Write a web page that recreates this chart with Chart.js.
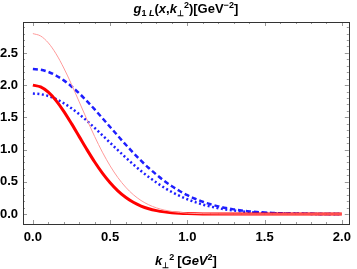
<!DOCTYPE html>
<html>
<head>
<meta charset="utf-8">
<script src="https://cdn.jsdelivr.net/npm/chart.js@4.4.0/dist/chart.umd.min.js"></script>
<style>
  html, body { margin: 0; padding: 0; background: #fff; }
</style>
</head>
<body>
<canvas id="chart" width="357" height="269"></canvas>
<script>
// k_perp^2 grid (GeV^2)
const kt2 = [0, 0.05, 0.1, 0.15, 0.2, 0.25, 0.3, 0.35, 0.4, 0.45, 0.5, 0.55, 0.6, 0.65, 0.7, 0.75, 0.8, 0.85, 0.9, 0.95,
             1.0, 1.05, 1.1, 1.15, 1.2, 1.25, 1.3, 1.35, 1.4, 1.45, 1.5, 1.55, 1.6, 1.65, 1.7, 1.75, 1.8, 1.85, 1.9, 1.95, 2.0];

// thick red
const redThick = [2.000, 1.972, 1.890, 1.760, 1.594, 1.403, 1.201, 0.999, 0.807, 0.635, 0.485, 0.360, 0.260, 0.182, 0.124, 0.082, 0.053, 0.033, 0.020, 0.012,
                  0.007, 0.004, 0.002, 0.001, 0, 0, 0, 0, 0, 0, 0, 0, 0, 0, 0, 0, 0, 0, 0, 0, 0];
// thin light red
const redThin = [2.800, 2.763, 2.656, 2.486, 2.266, 2.012, 1.740, 1.466, 1.202, 0.960, 0.747, 0.566, 0.418, 0.300, 0.210, 0.143, 0.095, 0.062, 0.039, 0.024,
                 0.014, 0.008, 0.005, 0.003, 0.002, 0.001, 0, 0, 0, 0, 0, 0, 0, 0, 0, 0, 0, 0, 0, 0, 0];
// blue dashed
const blueDashed = [2.250, 2.239, 2.205, 2.149, 2.074, 1.980, 1.872, 1.752, 1.623, 1.488, 1.351, 1.214, 1.079, 0.950, 0.828, 0.714, 0.610, 0.515, 0.431, 0.357,
                    0.292, 0.237, 0.190, 0.151, 0.119, 0.093, 0.072, 0.055, 0.041, 0.031, 0.023, 0.017, 0.012, 0.009, 0.006, 0.004, 0.003, 0.002, 0.001, 0.001, 0.001];
// blue dotted
const blueDotted = [1.870, 1.860, 1.831, 1.784, 1.719, 1.640, 1.548, 1.446, 1.336, 1.222, 1.106, 0.991, 0.878, 0.770, 0.668, 0.574, 0.488, 0.410, 0.341, 0.281,
                    0.229, 0.185, 0.147, 0.116, 0.091, 0.070, 0.054, 0.041, 0.030, 0.023, 0.017, 0.012, 0.009, 0.006, 0.004, 0.003, 0.002, 0.001, 0.001, 0.001, 0.000];

const xTicks = [0, 0.5, 1.0, 1.5, 2.0];
const yTicks = [0, 0.5, 1.0, 1.5, 2.0, 2.5];

const pts = arr => arr.map((v, i) => ({ x: kt2[i], y: v }));

const FONT = '"Liberation Sans", Arial, sans-serif';

// draw a run of styled text pieces centred on cx
function drawRich(ctx, parts, cx, baseline) {
  const fontOf = p => `${p.italic ? 'italic ' : ''}bold ${p.size}px ${FONT}`;
  let total = 0;
  parts.forEach(p => { ctx.font = fontOf(p); p.w = ctx.measureText(p.t).width; total += p.w + (p.gap || 0); });
  let x = cx - total / 2;
  ctx.textAlign = 'left';
  ctx.textBaseline = 'alphabetic';
  parts.forEach(p => {
    ctx.font = fontOf(p);
    ctx.fillText(p.t, x, baseline + (p.dy || 0));
    x += p.w + (p.gap || 0);
  });
}

const framePlugin = {
  id: 'frame',
  afterDraw(chart) {
    const { ctx, chartArea: a, scales: { x, y } } = chart;
    ctx.save();
    ctx.strokeStyle = '#999';
    ctx.lineWidth = 1;
    ctx.beginPath();
    for (let i = 0; i <= 20; i++) {
      const px = Math.round(x.getPixelForValue(i * 0.1)) + 0.5;
      const len = i % 5 === 0 ? 4 : 2;
      ctx.moveTo(px, a.bottom); ctx.lineTo(px, a.bottom - len);
      ctx.moveTo(px, a.top); ctx.lineTo(px, a.top + len);
    }
    for (let i = 0; i <= 29; i++) {
      const py = Math.round(y.getPixelForValue(i * 0.1)) + 0.5;
      const len = i % 5 === 0 ? 4 : 2;
      ctx.moveTo(a.left, py); ctx.lineTo(a.left + len, py);
      ctx.moveTo(a.right, py); ctx.lineTo(a.right - len, py);
    }
    ctx.stroke();
    ctx.strokeStyle = '#333';
    ctx.strokeRect(Math.round(a.left) + 0.5, Math.round(a.top) + 0.5, Math.round(a.right - a.left), Math.round(a.bottom - a.top));

    ctx.fillStyle = '#000';
    const cx = (a.left + a.right) / 2;
    drawRich(ctx, [
      { t: 'g', italic: true, size: 13 },
      { t: '1 ', size: 9, dy: 3 },
      { t: 'L', italic: true, size: 9, dy: 3 },
      { t: '(', size: 13 },
      { t: 'x', italic: true, size: 13 },
      { t: ',', size: 13 },
      { t: 'k', italic: true, size: 13 },
      { t: '\u22A5', size: 8, dy: 3 },
      { t: '2', size: 9, dy: -5 },
      { t: ')[GeV', size: 13 },
      { t: '\u22122', size: 9, dy: -5 },
      { t: ']', size: 13 }
    ], cx, 13);
    drawRich(ctx, [
      { t: 'k', italic: true, size: 13 },
      { t: '\u22A5', size: 8, dy: 3 },
      { t: '2', size: 9, dy: -5, gap: 3 },
      { t: '[', size: 13 },
      { t: 'GeV', italic: true, size: 13 },
      { t: '2', size: 9, dy: -5 },
      { t: ']', size: 13 }
    ], cx, 265);
    ctx.restore();
  }
};

new Chart(document.getElementById('chart'), {
  type: 'line',
  data: {
    datasets: [
      { data: pts(redThin), borderColor: '#ff9a9a', borderWidth: 1 },
      { data: pts(redThick), borderColor: '#ff0000', borderWidth: 3 },
      { data: pts(blueDashed), borderColor: '#1e1eff', borderWidth: 2.5, borderDash: [5, 3] },
      { data: pts(blueDotted), borderColor: '#1e1eff', borderWidth: 2.5, borderDash: [2, 2.5] }
    ]
  },
  options: {
    responsive: false,
    animation: false,
    layout: { padding: { top: 22, right: 5, left: 0, bottom: 0 } },
    elements: { point: { radius: 0 }, line: { cubicInterpolationMode: 'monotone' } },
    plugins: { legend: { display: false }, tooltip: { enabled: false } },
    scales: {
      x: {
        type: 'linear',
        min: -0.064,
        max: 2.045,
        grid: { display: false, drawTicks: false },
        border: { display: false },
        ticks: { padding: 6, color: '#000', font: { family: FONT, size: 13, weight: 'bold' }, callback: v => v.toFixed(1), maxRotation: 0 },
        afterBuildTicks: s => { s.ticks = xTicks.map(v => ({ value: v })); },
        afterFit: s => { s.height = 45; }
      },
      y: {
        min: -0.155,
        max: 2.98,
        grid: { display: false, drawTicks: false },
        border: { display: false },
        ticks: { padding: 5, color: '#000', font: { family: FONT, size: 13, weight: 'bold' }, callback: v => v.toFixed(1) },
        afterBuildTicks: s => { s.ticks = yTicks.map(v => ({ value: v })); },
        afterFit: s => { s.width = 23; }
      }
    }
  },
  plugins: [framePlugin]
});
</script>
</body>
</html>
